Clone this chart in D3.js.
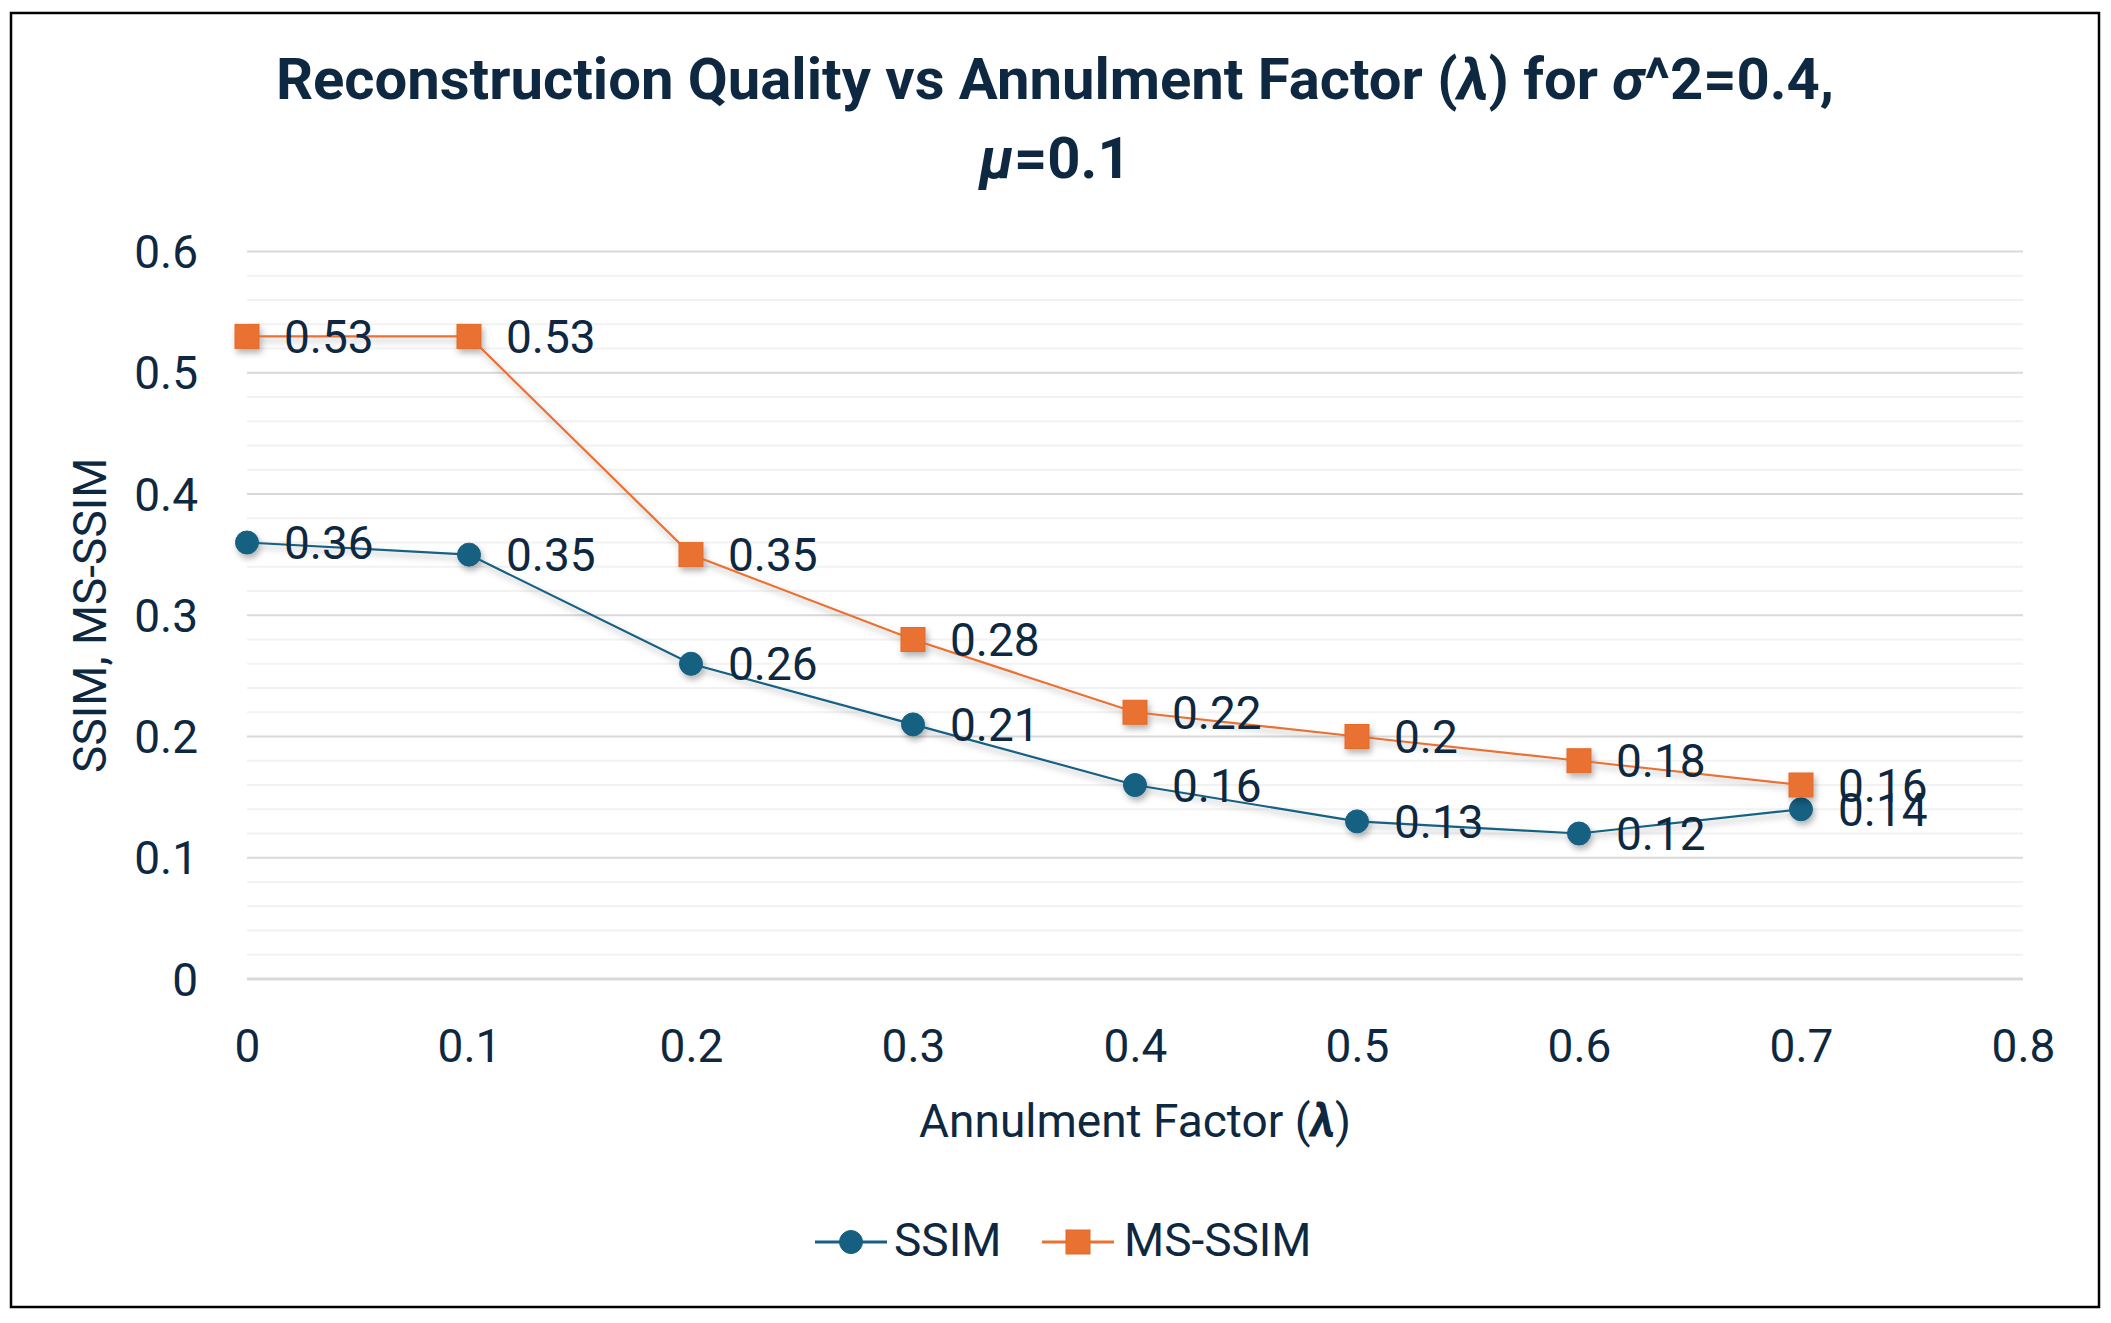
<!DOCTYPE html>
<html>
<head>
<meta charset="utf-8">
<script src="https://cdn.jsdelivr.net/npm/d3@7"></script>
<style>
  body { margin: 0; background: #fff; }
  text { font-family: Roboto, "Open Sans", sans-serif; fill: #0E2841; }
</style>
</head>
<body>
<svg id="chart" width="2111" height="1323"></svg>
<script>
// chart data
const lambdas = [0, 0.1, 0.2, 0.3, 0.4, 0.5, 0.6, 0.7];
const ssim = [0.36, 0.35, 0.26, 0.21, 0.16, 0.13, 0.12, 0.14];
const msssim = [0.53, 0.53, 0.35, 0.28, 0.22, 0.2, 0.18, 0.16];
const xTicks = [0, 0.1, 0.2, 0.3, 0.4, 0.5, 0.6, 0.7, 0.8];
const yTicks = [0, 0.1, 0.2, 0.3, 0.4, 0.5, 0.6];
const yMinor = d3.range(0, 0.6001, 0.02);

const svg = d3.select("#chart");
const blue = "#156082", orange = "#E97132";

// soft shadow under lines and markers
const defs = svg.append("defs");
defs.append("filter")
  .attr("id", "shadow")
  .attr("x", "-20%").attr("y", "-20%")
  .attr("width", "140%").attr("height", "140%")
  .append("feDropShadow")
  .attr("dx", 2).attr("dy", 4)
  .attr("stdDeviation", 3)
  .attr("flood-color", "#000")
  .attr("flood-opacity", 0.3);

// outer frame
svg.append("rect")
  .attr("x", 11).attr("y", 13)
  .attr("width", 2088).attr("height", 1294)
  .attr("fill", "white")
  .attr("stroke", "black")
  .attr("stroke-width", 2.5);

const x = d3.scaleLinear().domain([0, 0.8]).range([247, 2023]);
const y = d3.scaleLinear().domain([0, 0.6]).range([979, 251.5]);

// gridlines
svg.append("g").selectAll("line.minor")
  .data(yMinor.filter(v => Math.round(v * 100) % 10 !== 0))
  .join("line")
  .attr("x1", x(0)).attr("x2", x(0.8))
  .attr("y1", d => y(d)).attr("y2", d => y(d))
  .attr("stroke", "#F2F2F2")
  .attr("stroke-width", 2);

svg.append("g").selectAll("line.major")
  .data(yTicks)
  .join("line")
  .attr("x1", x(0)).attr("x2", x(0.8))
  .attr("y1", d => y(d)).attr("y2", d => y(d))
  .attr("stroke", "#D9D9D9")
  .attr("stroke-width", d => d === 0 ? 3 : 2.2);

// axes (labels only)
const yAxis = svg.append("g")
  .attr("transform", `translate(${x(0)},0)`)
  .call(d3.axisLeft(y).tickValues(yTicks).tickSize(0).tickPadding(49).tickFormat(d3.format("")));
const xAxis = svg.append("g")
  .attr("transform", `translate(0,${y(0)})`)
  .call(d3.axisBottom(x).tickValues(xTicks).tickSize(0).tickPadding(50).tickFormat(d3.format("")));
[yAxis, xAxis].forEach(a => {
  a.select(".domain").remove();
  a.selectAll("text")
    .attr("font-size", 46)
    .attr("font-family", "Roboto, sans-serif")
    .attr("fill", "#0E2841");
});
yAxis.selectAll("text").attr("dy", "0.35em");
xAxis.selectAll("text").attr("dy", "0.72em");

// series
const series = [
  { name: "SSIM", values: ssim, color: blue, shape: "circle" },
  { name: "MS-SSIM", values: msssim, color: orange, shape: "square" }
];
const line = d3.line().x((d, i) => x(lambdas[i])).y(d => y(d));

function drawMarker(g, shape, color, cx, cy) {
  if (shape === "circle") {
    g.append("circle")
      .attr("cx", cx).attr("cy", cy).attr("r", 11.5)
      .attr("fill", color)
      .attr("stroke", color).attr("stroke-width", 1);
  } else {
    g.append("rect")
      .attr("x", cx - 12).attr("y", cy - 12)
      .attr("width", 24).attr("height", 24)
      .attr("fill", color)
      .attr("stroke", "#E46A28").attr("stroke-width", 1);
  }
}

series.forEach(s => {
  const g = svg.append("g").attr("filter", "url(#shadow)");
  g.append("path")
    .datum(s.values)
    .attr("d", line)
    .attr("fill", "none")
    .attr("stroke", s.color)
    .attr("stroke-width", 2.2);
  s.values.forEach((v, i) => drawMarker(g, s.shape, s.color, x(lambdas[i]), y(v)));
});

// data labels
series.forEach(s => {
  svg.append("g").selectAll("text")
    .data(s.values)
    .join("text")
    .attr("x", (d, i) => x(lambdas[i]) + 37)
    .attr("y", d => y(d))
    .attr("dy", "0.36em")
    .attr("font-size", 46)
    .text(d => d3.format("")(d));
});

// title
const title = svg.append("text")
  .attr("text-anchor", "middle")
  .attr("font-size", 58)
  .attr("font-weight", "bold");
const t1 = title.append("tspan").attr("x", 1055).attr("y", 99);
t1.append("tspan").text("Reconstruction Quality vs Annulment Factor (");
t1.append("tspan").attr("font-style", "italic").text("λ");
t1.append("tspan").text(") for ");
t1.append("tspan").attr("font-style", "italic").text("σ");
t1.append("tspan").text("^2=0.4,");
const t2 = title.append("tspan").attr("x", 1055).attr("y", 178);
t2.append("tspan").attr("font-style", "italic").text("μ");
t2.append("tspan").text("=0.1");

// axis titles
const xt = svg.append("text")
  .attr("x", (x(0) + x(0.8)) / 2).attr("y", 1137)
  .attr("text-anchor", "middle")
  .attr("font-size", 46);
xt.append("tspan").text("Annulment Factor (");
xt.append("tspan").attr("font-weight", "bold").attr("font-style", "italic").text("λ");
xt.append("tspan").text(")");

svg.append("text")
  .attr("transform", `translate(106,${(y(0) + y(0.6)) / 2}) rotate(-90)`)
  .attr("text-anchor", "middle")
  .attr("font-size", 46)
  .text("SSIM, MS-SSIM");

// legend
const legend = svg.append("g");
const legendItems = [
  { s: series[0], x0: 815, tx: 894 },
  { s: series[1], x0: 1042, tx: 1124 }
];
legendItems.forEach(it => {
  const ly = 1242;
  legend.append("line")
    .attr("x1", it.x0).attr("x2", it.x0 + 72)
    .attr("y1", ly).attr("y2", ly)
    .attr("stroke", it.s.color).attr("stroke-width", 3);
  drawMarker(legend, it.s.shape, it.s.color, it.x0 + 36, ly);
  legend.append("text")
    .attr("x", it.tx).attr("y", 1256)
    .attr("font-size", 46)
    .text(it.s.name);
});
</script>
</body>
</html>
